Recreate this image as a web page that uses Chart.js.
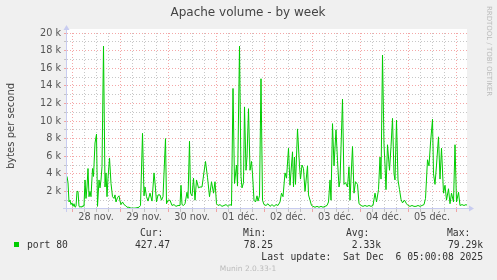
<!DOCTYPE html>
<html>
<head>
<meta charset="utf-8">
<script src="https://cdn.jsdelivr.net/npm/chart.js@4/dist/chart.umd.min.js"></script>
<style>
  html, body { margin: 0; padding: 0; background: #f0f0f0; }
  canvas { display: block; }
</style>
</head>
<body>
<canvas id="apache-week" width="497" height="280"></canvas>
<script>
// hours since 28 nov. 00:00, and bytes per second (in k)
const hours = [
  -2.5, -2, -1.5, -1, -0.5, 0, 0.5, 1, 1.5, 2, 2.5, 3, 3.5, 4, 4.5, 5, 5.5, 6, 6.5, 7, 7.5, 8, 8.5, 9, 9.5,
  10.25, 10.75, 11.5, 12.25, 12.75, 13.5, 14, 14.5, 15, 15.75, 16.5, 17, 17.5, 18, 18.75, 19.5, 20.25, 21, 21.5, 22, 22.75, 23.5,
  24, 24.5, 25.25, 26, 26.75, 27.5, 28.5, 29.5, 30.5, 31.5, 32.5, 33.5, 34.25, 35.25, 36, 36.5, 37.25, 38, 39, 40, 41, 41.5,
  42.25, 43, 44, 44.75, 45.5, 46.75, 47.25,
  48, 49, 50, 51, 52, 53, 54, 54.5, 55, 55.75, 56.5, 57.5, 58, 58.75, 59.25, 60, 60.75, 61.5, 62.25, 63.25, 64, 65, 66,
  66.75, 67.75, 68.75, 69.75, 70.75, 71.5,
  72.25, 73, 74, 75, 76, 77, 78, 79, 79.75, 80.5, 81.25, 82.25, 82.75, 83.75, 84.5, 85, 85.75, 86.25, 87, 87.5, 88.25, 89,
  89.75, 90.25, 91, 91.75, 92.5, 93, 93.75, 94.5, 95.25,
  96, 97, 98, 99, 100, 101, 102, 103, 104, 104.75, 105.5, 106.5, 107.25, 108.25, 109, 110.25, 110.75, 111.25, 111.75,
  112.75, 113.75, 114.25, 115, 115.75, 116.5, 117.75, 118.25, 119, 119.75,
  120.5, 121.5, 122.5, 123.5, 124.5, 125.5, 126.5, 127.5, 128.25, 129, 129.5, 130.25, 131, 132, 132.75, 133.5, 134, 135.25,
  136, 136.75, 137.75, 138.5, 139, 140.25, 141, 141.75, 142.75, 143.5,
  144.5, 145.5, 146.5, 147.5, 148.5, 149.5, 150.5, 151.5, 152.25, 153.25, 154, 154.5, 155.25, 156, 156.5, 157, 157.75,
  158.75, 159.5, 160.25, 161, 161.5, 162.25, 163, 163.75, 164.5, 165.25, 166.25, 167.25,
  168, 169, 170, 171, 172, 173, 174, 175, 176, 176.75, 177.75, 178.5, 179.25, 180.25, 180.75, 181.5, 182.25, 183.25, 184,
  184.75, 185.75, 186.5, 187.25, 188.25, 189, 189.75, 190.75, 191.5,
  192.25, 193.25, 194, 195, 196, 197, 197.5
];
const port80 = [
  3.7, 3.0, 0.8, 1.0, 0.5, 0.7, 0.3, 0.6, 0.2, 0.3, 2.0, 2.0, 0.3, 0.2, 0.3, 0.2, 0.4, 0.3, 3.3, 1.2, 2.5, 4.6, 1.4, 2.0, 1.4,
  4.6, 3.7, 7.5, 8.5, 0.3, 3.3, 2.4, 3.3, 4.8, 18.5, 2.5, 4.1, 1.4, 3.5, 5.8, 2.9, 1.4, 1.2, 1.6, 0.8, 1.3, 1.5,
  0.9, 0.5, 0.8, 0.5, 0.4, 0.2, 0.2, 0.1, 0.1, 0.1, 0.15, 0.2, 0.4, 8.6, 1.5, 2.5, 1.4, 0.9, 1.8, 0.9, 4.1, 3.0,
  0.8, 1.6, 1.6, 1.0, 1.4, 8.0, 0.6,
  1.0, 1.0, 0.4, 0.5, 0.3, 0.4, 0.4, 2.7, 0.5, 0.4, 0.6, 1.9, 1.2, 7.7, 1.8, 1.5, 3.5, 1.0, 3.3, 2.4, 2.5, 2.5, 4.2,
  5.4, 3.6, 1.4, 3.1, 1.8, 3.1,
  0.6, 0.4, 0.5, 0.3, 0.4, 0.5, 0.3, 0.5, 0.4, 13.7, 2.9, 5.0, 2.6, 18.5, 3.7, 2.4, 3.0, 11.6, 4.4, 5.9, 11.4, 4.4,
  5.4, 4.0, 1.0, 0.8, 1.5, 0.9, 1.5, 14.8, 1.0,
  0.5, 0.4, 0.6, 0.3, 0.5, 0.3, 0.5, 0.4, 0.8, 1.8, 1.4, 4.1, 3.5, 6.9, 2.7, 6.5, 2.5, 5.9, 2.8,
  9.1, 4.9, 3.4, 5.0, 4.6, 2.0, 4.9, 1.6, 1.0, 0.4,
  0.3, 0.2, 0.3, 0.2, 0.3, 0.2, 0.3, 0.4, 0.8, 3.3, 1.0, 9.7, 4.9, 9.0, 5.5, 2.5, 3.2, 12.5,
  2.8, 3.0, 2.5, 4.8, 1.0, 7.1, 1.8, 3.1, 2.8, 0.6,
  0.4, 0.3, 0.4, 0.3, 0.4, 0.3, 0.4, 1.8, 0.8, 2.2, 5.9, 3.4, 17.5, 7.3, 5.0, 2.2, 7.3,
  4.4, 7.1, 10.3, 4.0, 3.3, 10.1, 3.3, 2.2, 1.1, 0.7, 1.0, 0.6,
  0.4, 0.3, 0.4, 0.3, 0.3, 0.4, 0.3, 0.4, 0.5, 1.2, 5.6, 4.9, 7.5, 10.2, 4.0, 2.8, 5.0, 8.2, 3.4,
  6.9, 1.8, 2.7, 1.0, 2.3, 0.6, 1.8, 0.8, 7.3,
  0.8, 1.9, 0.4, 0.5, 0.4, 0.5, 0.43
];
const dayLabels = ["28 nov.", "29 nov.", "30 nov.", "01 déc.", "02 déc.", "03 déc.", "04 déc.", "05 déc."];
const gridHours = [];
for (let h = 0; h <= 192; h += 6) gridHours.push(h);
const yTicks = [];
for (let v = 0; v <= 20000; v += 1000) yTicks.push(v);

const legendRows = {
  name: "port 80",
  cur: "427.47",
  min: "78.25",
  avg: "2.33k",
  max: "79.29k",
  update: "Last update:  Sat Dec  6 05:00:08 2025"
};

const RED = "rgba(240,130,130,0.7)";
const GRAY = "rgba(175,175,175,0.7)";
const AXIS = "#c8ccf0";

const munin = {
  id: "munin",
  beforeDraw(chart) {
    const { ctx, chartArea: a } = chart;
    ctx.save();
    ctx.fillStyle = "#f0f0f0";
    ctx.fillRect(0, 0, chart.width, chart.height);
    ctx.fillStyle = "#ffffff";
    ctx.fillRect(a.left, a.top - 4, a.right - a.left, a.bottom - a.top + 4);
    ctx.restore();
  },
  afterDraw(chart) {
    const { ctx, chartArea: a } = chart;
    ctx.save();
    // axes with arrows
    ctx.strokeStyle = AXIS;
    ctx.fillStyle = AXIS;
    ctx.lineWidth = 1;
    ctx.beginPath();
    ctx.moveTo(a.left - 0.5, a.bottom + 3);
    ctx.lineTo(a.left - 0.5, a.top - 4);
    ctx.moveTo(a.left - 4, a.bottom - 0.5);
    ctx.lineTo(a.right + 3, a.bottom - 0.5);
    ctx.stroke();
    ctx.beginPath();
    ctx.moveTo(a.left - 3.5, a.top - 3);
    ctx.lineTo(a.left + 2.5, a.top - 3);
    ctx.lineTo(a.left - 0.5, a.top - 8);
    ctx.fill();
    ctx.beginPath();
    ctx.moveTo(a.right + 2, a.bottom - 3.5);
    ctx.lineTo(a.right + 2, a.bottom + 2.5);
    ctx.lineTo(a.right + 7, a.bottom - 0.5);
    ctx.fill();

    // title
    ctx.fillStyle = "#444";
    ctx.textAlign = "center";
    ctx.textBaseline = "middle";
    ctx.font = "12px 'DejaVu Sans'";
    ctx.fillText("Apache volume - by week", 248, 13);

    // vertical axis label
    ctx.save();
    ctx.translate(11, 126);
    ctx.rotate(-Math.PI / 2);
    ctx.font = "10px 'DejaVu Sans'";
    ctx.fillStyle = "#444";
    ctx.fillText("bytes per second", 0, 0);
    ctx.restore();

    // rrdtool credit
    ctx.save();
    ctx.translate(489, 51);
    ctx.rotate(Math.PI / 2);
    ctx.font = "7px 'DejaVu Sans'";
    ctx.fillStyle = "#bbbbbb";
    ctx.fillText("RRDTOOL / TOBI OETIKER", 0, 0);
    ctx.restore();

    // legend
    ctx.font = "9.7px 'DejaVu Sans Mono'";
    ctx.fillStyle = "#333";
    ctx.textAlign = "left";
    ctx.fillText("Cur:", 140, 233.5);
    ctx.fillText("Min:", 243, 233.5);
    ctx.fillText("Avg:", 346, 233.5);
    ctx.fillText("Max:", 447, 233.5);
    ctx.fillText(legendRows.name, 27, 245.5);
    ctx.textAlign = "right";
    ctx.fillText(legendRows.cur, 170, 245.5);
    ctx.fillText(legendRows.min, 273, 245.5);
    ctx.fillText(legendRows.avg, 381, 245.5);
    ctx.fillText(legendRows.max, 483, 245.5);
    ctx.fillText(legendRows.update, 483, 257.5);
    ctx.fillStyle = "#00cc00";
    ctx.fillRect(14, 242, 5, 5);

    ctx.textAlign = "center";
    ctx.font = "7.5px 'DejaVu Sans'";
    ctx.fillStyle = "#bbbbbb";
    ctx.fillText("Munin 2.0.33-1", 248, 269.5);
    ctx.restore();
  }
};

new Chart(document.getElementById("apache-week").getContext("2d"), {
  type: "line",
  data: {
    datasets: [
      {
        label: legendRows.name,
        data: hours.map((h, i) => ({ x: h, y: port80[i] * 1000 })),
        borderColor: "#00cc00",
        borderWidth: 1,
        pointRadius: 0,
        tension: 0,
        fill: false
      }
    ]
  },
  options: {
    responsive: false,
    animation: false,
    events: [],
    layout: { padding: { top: 33, right: 30, bottom: 0, left: 0 } },
    plugins: {
      legend: { display: false },
      tooltip: { enabled: false }
    },
    scales: {
      x: {
        type: "linear",
        min: -2.5,
        max: 197.5,
        afterBuildTicks: (scale) => {
          scale.ticks = gridHours.map(v => ({ value: v }));
        },
        afterFit: (scale) => { scale.height = 71; },
        border: { display: false, dash: [1, 2] },
        grid: {
          color: (c) => (c.tick && c.tick.value % 24 === 0 ? RED : GRAY),
          tickLength: 3
        },
        ticks: {
          autoSkip: false,
          maxRotation: 0,
          padding: 0,
          color: "#555",
          font: { family: "DejaVu Sans", size: 9.7 },
          callback: (v) => (v % 24 === 12 ? dayLabels[(v - 12) / 24] : "")
        }
      },
      y: {
        min: 0,
        max: 20000,
        afterBuildTicks: (scale) => {
          scale.ticks = yTicks.map(v => ({ value: v }));
        },
        afterFit: (scale) => { scale.width = 67; },
        border: { display: false, dash: [1, 2] },
        grid: {
          color: (c) => {
            if (!c.tick || c.tick.value === 0) return "rgba(0,0,0,0)";
            return c.tick.value % 2000 === 0 ? RED : GRAY;
          },
          tickLength: 3
        },
        ticks: {
          autoSkip: false,
          padding: 3,
          color: "#555",
          font: { family: "DejaVu Sans", size: 9.7 },
          callback: (v) => (v > 0 && v % 2000 === 0 ? v / 1000 + " k" : "")
        }
      }
    }
  },
  plugins: [munin]
});
</script>
</body>
</html>
